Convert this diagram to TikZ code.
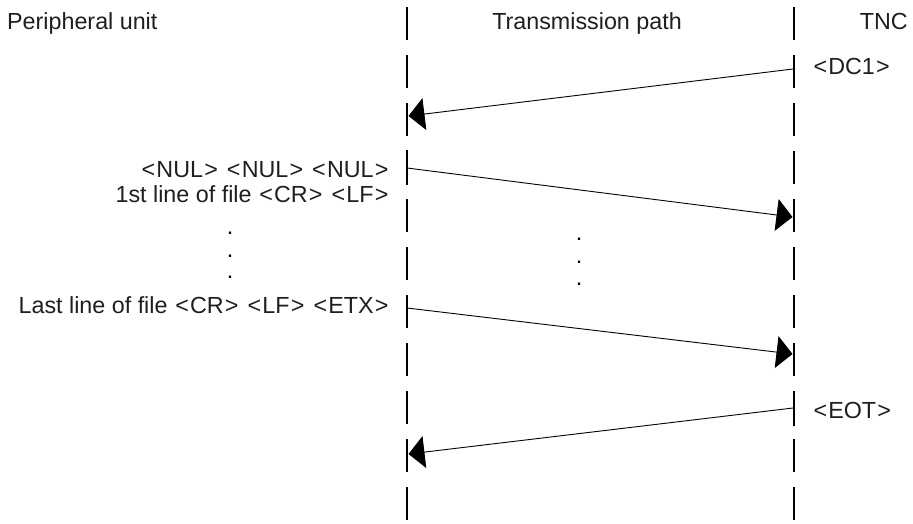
\documentclass[tikz,border=0pt]{standalone}
\usepackage{fontspec}
\setmainfont{Liberation Sans}
\usetikzlibrary{arrows.meta}
\newcommand\angl[1]{\kern1.3pt\relax<\kern1.2pt\relax#1\kern1.2pt\relax>\kern1.3pt\relax}
\begin{document}
\begin{tikzpicture}[x=1pt,y=-1pt,
  lbl/.style={inner sep=0pt,text=black!88,font=\fontsize{23.3}{27}\selectfont},
  life/.style={line width=2.6pt,dash pattern=on 33pt off 15pt},
  msg/.style={line width=0.9pt,-{Triangle[length=16pt,width=32pt,fill=black]}},
  dotlbl/.style={inner sep=0pt,font=\fontsize{23.3}{27}\selectfont}]
\useasboundingbox[fill=white] (0,0) rectangle (913,524);
% lifelines
\coordinate (Ltop) at (407,7);
\coordinate (Lbot) at (407,524);
\coordinate (Rtop) at (794,7);
\coordinate (Rbot) at (794,524);
\draw[life] (Ltop) -- (Lbot);
\draw[life] (Rtop) -- (Rbot);
% headers
\node[lbl,anchor=base west] (hp) at (7,30) {Peripheral unit};
\node[lbl,anchor=base] (ht) at (587,30) {Transmission path};
\node[lbl,anchor=base east] (hn) at (908,30) {TNC};
% labels
\node[lbl,anchor=base west] (dc1) at (812,75) {\angl{DC1}};
\node[lbl,anchor=base east] (nul) at (390,177) {\angl{NUL} \angl{NUL} \angl{NUL}};
\node[lbl,anchor=base east] (first) at (390,202) {1st line of file \angl{CR} \angl{LF}};
\node[lbl,anchor=base east] (last) at (390,313) {Last line of file \angl{CR} \angl{LF} \angl{ETX}};
\node[lbl,anchor=base west] (eot) at (812,418) {\angl{EOT}};
% dots
\node[dotlbl,anchor=base] (d1) at (230,234) {.};
\node[dotlbl,anchor=base] (d2) at (230,257) {.};
\node[dotlbl,anchor=base] (d3) at (230,278) {.};
\node[dotlbl,anchor=base] (m1) at (579,240) {.};
\node[dotlbl,anchor=base] (m2) at (579,263) {.};
\node[dotlbl,anchor=base] (m3) at (579,285) {.};
% message end points
\coordinate (a1s) at (793,69);
\coordinate (a1e) at (408.5,116);
\coordinate (a2s) at (407,168);
\coordinate (a2e) at (792.5,217);
\coordinate (a3s) at (407,308);
\coordinate (a3e) at (792.5,354);
\coordinate (a4s) at (793,408);
\coordinate (a4e) at (408.5,454);
% short ticks where messages leave a lifeline
\draw[line width=1.2pt] (407,150) -- (407,185);
\draw[line width=1.2pt] (407,295) -- (407,326);
\draw[line width=1.2pt] (794,55) -- (794,88);
\draw[line width=1.2pt] (794,393) -- (794,426);
\draw[msg] (a1s) -- (a1e);
\draw[msg] (a2s) -- (a2e);
\draw[msg] (a3s) -- (a3e);
\draw[msg] (a4s) -- (a4e);
\end{tikzpicture}
\end{document}
